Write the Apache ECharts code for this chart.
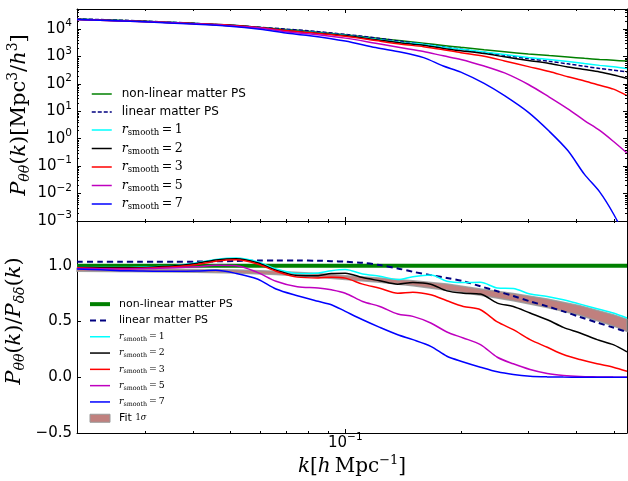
<!DOCTYPE html>
<html><head><meta charset="utf-8">
<script src="https://cdn.jsdelivr.net/npm/echarts@6/dist/echarts.min.js"></script>
<style>html,body{margin:0;padding:0;background:#fff}#c{width:628px;height:481px}</style>
</head><body><div id="c"></div><script>
// ---------- data ----------
const kTop = [0.02, 0.03, 0.04, 0.05, 0.06, 0.07, 0.08, 0.1, 0.12, 0.14, 0.16, 0.18, 0.2, 0.23, 0.26, 0.3, 0.34, 0.38, 0.42, 0.46, 0.5, 0.542];
const psNonLinear = [22900, 19050, 15850, 13180, 11220, 9550, 8320, 6170, 4680, 3720, 3020, 2510, 2140, 1740, 1480, 1230, 1070, 955, 851, 776, 724, 676];
const psLinear = [23400, 19500, 16200, 13500, 11600, 9890, 8610, 6380, 4730, 3550, 2790, 2240, 1840, 1410, 1100, 832, 661, 537, 437, 363, 316, 275];
const psR1 = [22500, 18800, 16200, 14000, 11400, 9020, 7750, 5960, 4240, 3250, 2750, 2170, 1820, 1460, 1180, 923, 771, 655, 550, 472, 417, 361];
const psR2 = [22500, 18700, 16100, 13900, 11300, 8890, 7570, 5740, 4080, 3100, 2540, 1960, 1610, 1270, 968, 713, 552, 415, 332, 272, 210, 156];
const psR3 = [22400, 18600, 15900, 13800, 11200, 8730, 7400, 5470, 3780, 2790, 2270, 1760, 1370, 1020, 687, 425, 281, 182, 128, 89, 64, 37];
const psR5 = [22300, 18500, 15700, 13200, 10800, 7930, 6700, 4650, 3020, 2080, 1510, 1050, 776, 447, 251, 95, 33, 12.3, 4.6, 2.0, 0.79, 0.3];
const psR7 = [22200, 18200, 15100, 12600, 9770, 7160, 5820, 3640, 2100, 1430, 906, 447, 269, 104, 37, 9.1, 1.86, 0.37, 0.05, 0.0115, 0.0018, 0.0002];

const kBottom = [0.02, 0.023, 0.026, 0.029, 0.032, 0.036, 0.041, 0.046, 0.052, 0.059, 0.066, 0.075, 0.085, 0.092, 0.1, 0.111, 0.123, 0.137, 0.15, 0.167, 0.184, 0.203, 0.225, 0.249, 0.274, 0.303, 0.336, 0.37, 0.409, 0.453, 0.499, 0.542];
const kFlat = [0.02, 0.542];
const ratioNonLinear = [1.0, 1.0];
const ratioLinear = [1.035, 1.035, 1.035, 1.035, 1.035, 1.035, 1.036, 1.038, 1.042, 1.045, 1.046, 1.046, 1.044, 1.04, 1.035, 1.025, 1.005, 0.975, 0.945, 0.915, 0.89, 0.86, 0.815, 0.77, 0.728, 0.68, 0.635, 0.59, 0.54, 0.49, 0.445, 0.405];
const ratioR1 = [0.985, 0.983, 0.983, 0.985, 0.99, 1.0, 1.025, 1.055, 1.068, 1.035, 0.97, 0.93, 0.935, 0.955, 0.965, 0.925, 0.905, 0.875, 0.9, 0.915, 0.86, 0.848, 0.85, 0.8, 0.795, 0.745, 0.724, 0.694, 0.655, 0.614, 0.575, 0.53];
const ratioR2 = [0.985, 0.982, 0.98, 0.982, 0.988, 0.998, 1.02, 1.05, 1.062, 1.025, 0.96, 0.912, 0.91, 0.93, 0.932, 0.893, 0.864, 0.834, 0.849, 0.834, 0.774, 0.753, 0.745, 0.664, 0.634, 0.575, 0.515, 0.447, 0.396, 0.337, 0.292, 0.227];
const ratioR3 = [0.98, 0.975, 0.975, 0.977, 0.982, 0.99, 1.01, 1.04, 1.052, 1.015, 0.95, 0.897, 0.89, 0.896, 0.888, 0.834, 0.798, 0.753, 0.762, 0.739, 0.685, 0.634, 0.605, 0.495, 0.426, 0.337, 0.268, 0.203, 0.158, 0.12, 0.09, 0.054];
const ratioR5 = [0.975, 0.972, 0.97, 0.972, 0.975, 0.98, 0.99, 1.003, 1.0, 0.94, 0.86, 0.81, 0.8, 0.783, 0.753, 0.679, 0.634, 0.566, 0.545, 0.486, 0.405, 0.352, 0.292, 0.179, 0.12, 0.069, 0.033, 0.015, 0.006, 0.003, 0.001, 0.0];
const ratioR7 = [0.97, 0.962, 0.955, 0.952, 0.95, 0.95, 0.952, 0.958, 0.93, 0.88, 0.79, 0.73, 0.68, 0.65, 0.59, 0.515, 0.447, 0.381, 0.337, 0.277, 0.188, 0.137, 0.09, 0.048, 0.024, 0.009, 0.003, 0.001, 0.0, 0.0, 0.0, 0.0];

const kFit = [0.02, 0.03, 0.041, 0.052, 0.066, 0.085, 0.1, 0.123, 0.15, 0.184, 0.225, 0.274, 0.336, 0.409, 0.499, 0.542];
const fitLow = [0.95, 0.945, 0.94, 0.935, 0.92, 0.895, 0.875, 0.85, 0.82, 0.78, 0.735, 0.685, 0.625, 0.555, 0.46, 0.41];
const fitHigh = [0.975, 0.97, 0.965, 0.96, 0.95, 0.93, 0.91, 0.89, 0.865, 0.835, 0.79, 0.75, 0.7, 0.64, 0.56, 0.52];

const kRange = [0.02, 0.542];
const psRange = [1e-3, 5.36e4];
const ratioRange = [-0.5, 1.4];
const kMinorTicks = [0.03, 0.04, 0.05, 0.06, 0.07, 0.08, 0.09, 0.2, 0.3, 0.4, 0.5];
const psMinorMantissas = [2, 3, 4, 5, 6, 7, 8, 9];
const psDecades = [1e-3, 1e-2, 1e-1, 1, 10, 100, 1000, 10000];

// ---------- styling ----------
const SANS = "'DejaVu Sans', sans-serif";
const SERIF = "'DejaVu Serif', serif";
const C = {nl: '#008000', lin: '#000080', r1: '#00ffff', r2: '#000000', r3: '#ff0000', r5: '#bf00bf', r7: '#0000ff'};

const psMinorTicks = [];
psDecades.forEach(d => psMinorMantissas.forEach(m => { const v = m * d; if (v < psRange[1]) psMinorTicks.push(v); }));

function expLabel(v) {
  const e = Math.log10(v);
  const r = Math.round(e);
  if (Math.abs(e - r) > 1e-6) return '';
  return '{b|10}{s|' + (r < 0 ? '\u2212' + (-r) : r) + '}';
}
const expRich = {
  b: {fontFamily: SANS, fontSize: 15, color: '#000'},
  s: {fontFamily: SANS, fontSize: 10.5, color: '#000', padding: [0, 0, 11, 0]}
};

function xAxisDef(grid, pos, labels, extra) {
  return Object.assign({
    type: 'log', logBase: 10, gridIndex: grid, position: pos, min: kRange[0], max: kRange[1],
    axisLine: {onZero: false, lineStyle: {color: '#000', width: 1}},
    axisTick: {inside: true, length: 4, lineStyle: {color: '#000', width: 1}},
    axisLabel: labels ? {show: true, margin: 2, lineHeight: 16, formatter: expLabel, rich: expRich, showMinLabel: true, showMaxLabel: true} : {show: false},
    splitLine: {show: false}, minorTick: {show: false}
  }, extra || {});
}
function yTopDef(pos, labels, extra) {
  return Object.assign({
    type: 'log', logBase: 10, gridIndex: 0, position: pos, min: psRange[0], max: psRange[1],
    axisLine: {onZero: false, lineStyle: {color: '#000', width: 1}},
    axisTick: {inside: true, length: 4, lineStyle: {color: '#000', width: 1}},
    axisLabel: labels ? {show: true, margin: 5, lineHeight: 16, formatter: expLabel, rich: expRich} : {show: false},
    splitLine: {show: false}
  }, extra || {});
}
function yBotDef(pos, labels, extra) {
  return Object.assign({
    type: 'value', gridIndex: 1, position: pos, min: ratioRange[0], max: ratioRange[1], interval: 0.5,
    axisLine: {onZero: false, lineStyle: {color: '#000', width: 1}},
    axisTick: {inside: true, length: 4, lineStyle: {color: '#000', width: 1}},
    axisLabel: labels ? {show: true, margin: 5, fontFamily: SANS, fontSize: 15, color: '#000',
      formatter: v => (Math.abs(v / 0.5 - Math.round(v / 0.5)) > 1e-6) ? '' : v.toFixed(1).replace('-', '\u2212')} : {show: false},
    splitLine: {show: false}
  }, extra || {});
}

const nameRich = {
  i: {fontFamily: SERIF, fontStyle: 'italic', fontSize: 21, color: '#000'},
  r: {fontFamily: SERIF, fontSize: 21, color: '#000'},
  sub: {fontFamily: SERIF, fontStyle: 'italic', fontSize: 14, color: '#000', padding: [10, 0, 0, 0]},
  sup: {fontFamily: SERIF, fontSize: 14, color: '#000', padding: [0, 0, 14, 0]}
};

function line(name, axis, ks, vals, color, width, dash) {
  return {
    name, type: 'line', xAxisIndex: axis, yAxisIndex: axis,
    data: ks.map((k, i) => [k, vals[i]]),
    showSymbol: false, symbol: 'none', smooth: 0.3, clip: true, silent: true, animation: false,
    lineStyle: {color, width, type: dash || 'solid'}, itemStyle: {color}
  };
}
function xMinor(axis, yRef) {
  return {
    type: 'custom', xAxisIndex: axis, yAxisIndex: axis, silent: true, animation: false, z: 10,
    data: kMinorTicks.map(k => [k, yRef]),
    renderItem(params, api) {
      const cs = params.coordSys;
      const px = Math.round(api.coord([api.value(0), yRef])[0]) + 0.5;
      const b = cs.y + cs.height;
      return {type: 'group', children: [
        {type: 'line', shape: {x1: px, y1: b, x2: px, y2: b - 2}, style: {stroke: '#000', lineWidth: 1}},
        {type: 'line', shape: {x1: px, y1: cs.y, x2: px, y2: cs.y + 2}, style: {stroke: '#000', lineWidth: 1}}
      ]};
    }
  };
}
function yMinorTop() {
  return {
    type: 'custom', xAxisIndex: 0, yAxisIndex: 0, silent: true, animation: false, z: 10,
    data: psMinorTicks.map(v => [0.1, v]),
    renderItem(params, api) {
      const cs = params.coordSys;
      const py = Math.round(api.coord([0.1, api.value(1)])[1]) + 0.5;
      const r = cs.x + cs.width;
      return {type: 'group', children: [
        {type: 'line', shape: {x1: cs.x, y1: py, x2: cs.x + 2, y2: py}, style: {stroke: '#000', lineWidth: 1}},
        {type: 'line', shape: {x1: r, y1: py, x2: r - 2, y2: py}, style: {stroke: '#000', lineWidth: 1}}
      ]};
    }
  };
}
const fitBand = {
  name: 'fitB', type: 'custom', xAxisIndex: 2, yAxisIndex: 2, silent: true, animation: false, z: 1,
  itemStyle: {color: '#c0807e'},
  data: [[kFit[0], fitLow[0]]],
  renderItem(params, api) {
    const pts = [];
    for (let i = 0; i < kFit.length; i++) pts.push(api.coord([kFit[i], fitHigh[i]]));
    for (let i = kFit.length - 1; i >= 0; i--) pts.push(api.coord([kFit[i], fitLow[i]]));
    return {type: 'polygon', shape: {points: pts}, style: {fill: '#c0807e', stroke: 'rgba(150,150,150,0.85)', lineWidth: 1.5}};
  }
};

const legendText = {
  nlT: 'non-linear matter PS', linT: 'linear matter PS',
  r1T: '{ri|r}{rs|smooth}{rn|\u2009=\u20091}', r2T: '{ri|r}{rs|smooth}{rn|\u2009=\u20092}', r3T: '{ri|r}{rs|smooth}{rn|\u2009=\u20093}',
  r5T: '{ri|r}{rs|smooth}{rn|\u2009=\u20095}', r7T: '{ri|r}{rs|smooth}{rn|\u2009=\u20097}',
  nlB: 'non-linear matter PS', linB: 'linear matter PS',
  r1B: '{ri|r}{rs|smooth}{rn|\u2009=\u20091}', r2B: '{ri|r}{rs|smooth}{rn|\u2009=\u20092}', r3B: '{ri|r}{rs|smooth}{rn|\u2009=\u20093}',
  r5B: '{ri|r}{rs|smooth}{rn|\u2009=\u20095}', r7B: '{ri|r}{rs|smooth}{rn|\u2009=\u20097}',
  fitB: 'Fit {fr|1}{fi|\u03c3}'
};
function legendRich(scale) {
  return {
    ri: {fontFamily: SERIF, fontStyle: 'italic', fontSize: 12.5 * scale, color: '#000'},
    rs: {fontFamily: SERIF, fontSize: 8.5 * scale, color: '#000', padding: [6 * scale, 0, 0, 0]},
    rn: {fontFamily: SERIF, fontSize: 12.5 * scale, color: '#000'},
    fr: {fontFamily: SERIF, fontSize: 11 * scale, color: '#000'},
    fi: {fontFamily: SERIF, fontStyle: 'italic', fontSize: 11 * scale, color: '#000'}
  };
}

const option = {
  backgroundColor: '#fff',
  animation: false,
  grid: [
    {left: 77, right: 1, top: 9, height: 212, outerBoundsMode: 'none', containLabel: false},
    {left: 77, right: 1, top: 221, height: 212, outerBoundsMode: 'none', containLabel: false}
  ],
  xAxis: [
    xAxisDef(0, 'bottom', false),
    xAxisDef(0, 'top', false),
    xAxisDef(1, 'bottom', true, {
      name: '{i|k}{r|[}{i|h}{r|\u2009Mpc}{sup|\u22121}{r|]}', nameLocation: 'middle', nameGap: 22, nameMoveOverlap: false,
      nameTextStyle: {fontFamily: SERIF, fontSize: 20, color: '#000', lineHeight: 24, rich: {
        i: {fontFamily: SERIF, fontStyle: 'italic', fontSize: 20, color: '#000'},
        r: {fontFamily: SERIF, fontSize: 20, color: '#000'},
        sup: {fontFamily: SERIF, fontSize: 13, color: '#000', padding: [0, 0, 13, 0]}
      }}
    }),
    xAxisDef(1, 'top', false)
  ],
  yAxis: [
    yTopDef('left', true, {
      name: '{i|P}{sub|\u03b8\u03b8}{r|(}{i|k}{r|)[Mpc}{sup|3}{r|/}{i|h}{sup|3}{r|]}',
      nameLocation: 'middle', nameRotate: 90, nameGap: 44, nameMoveOverlap: false,
      nameTextStyle: {fontFamily: SERIF, fontSize: 21, color: '#000', lineHeight: 26, rich: nameRich}
    }),
    yTopDef('right', false),
    yBotDef('left', true, {
      name: '{i|P}{sub|\u03b8\u03b8}{r|(}{i|k}{r|)/}{i|P}{sub|\u03b4\u03b4}{r|(}{i|k}{r|)}',
      nameLocation: 'middle', nameRotate: 90, nameGap: 49, nameMoveOverlap: false,
      nameTextStyle: {fontFamily: SERIF, fontSize: 21, color: '#000', lineHeight: 26, padding: [0, 0, 0, 12], rich: nameRich}
    }),
    yBotDef('right', false)
  ],
  legend: [
    {
      orient: 'vertical', left: 91, top: 87, padding: 0, itemGap: 4, itemWidth: 20, itemHeight: 8,
      selectedMode: false, data: ['nlT', 'linT', 'r1T', 'r2T', 'r3T', 'r5T', 'r7T'],
      itemStyle: {opacity: 0}, lineStyle: {width: 'inherit'},
      formatter: n => legendText[n],
      textStyle: {fontFamily: SANS, fontSize: 12, color: '#000', lineHeight: 14, padding: [0, 0, 0, 5], rich: legendRich(1)}
    },
    {
      orient: 'vertical', left: 88, top: 298, padding: 0, itemGap: 4, itemWidth: 20, itemHeight: 8,
      selectedMode: false,
      itemStyle: {opacity: 0}, lineStyle: {width: 'inherit'},
      data: ['nlB', 'linB', 'r1B', 'r2B', 'r3B', 'r5B', 'r7B',
        {name: 'fitB', icon: 'rect', itemStyle: {color: '#c0807e', borderColor: '#999', borderWidth: 1, opacity: 1}}],
      formatter: n => legendText[n],
      textStyle: {fontFamily: SANS, fontSize: 11, color: '#000', lineHeight: 12.3, padding: [0, 0, 0, 4], rich: legendRich(0.75)}
    }
  ],
  series: [
    line('nlT', 0, kTop, psNonLinear, C.nl, 1.5),
    line('linT', 0, kTop, psLinear, C.lin, 1.5, [4, 2]),
    line('r1T', 0, kTop, psR1, C.r1, 1.5),
    line('r2T', 0, kTop, psR2, C.r2, 1.5),
    line('r3T', 0, kTop, psR3, C.r3, 1.5),
    line('r5T', 0, kTop, psR5, C.r5, 1.5),
    line('r7T', 0, kTop, psR7, C.r7, 1.5),
    fitBand,
    line('nlB', 2, kFlat, ratioNonLinear, C.nl, 4),
    line('linB', 2, kBottom, ratioLinear, C.lin, 2, [6, 4]),
    line('r1B', 2, kBottom, ratioR1, C.r1, 1.5),
    line('r2B', 2, kBottom, ratioR2, C.r2, 1.5),
    line('r3B', 2, kBottom, ratioR3, C.r3, 1.5),
    line('r5B', 2, kBottom, ratioR5, C.r5, 1.5),
    line('r7B', 2, kBottom, ratioR7, C.r7, 1.5),
    xMinor(0, 1), xMinor(2, 0), yMinorTop()
  ]
};
const chart = echarts.init(document.getElementById('c'), null, {renderer: 'canvas'});
chart.setOption(option);
</script></body></html>
